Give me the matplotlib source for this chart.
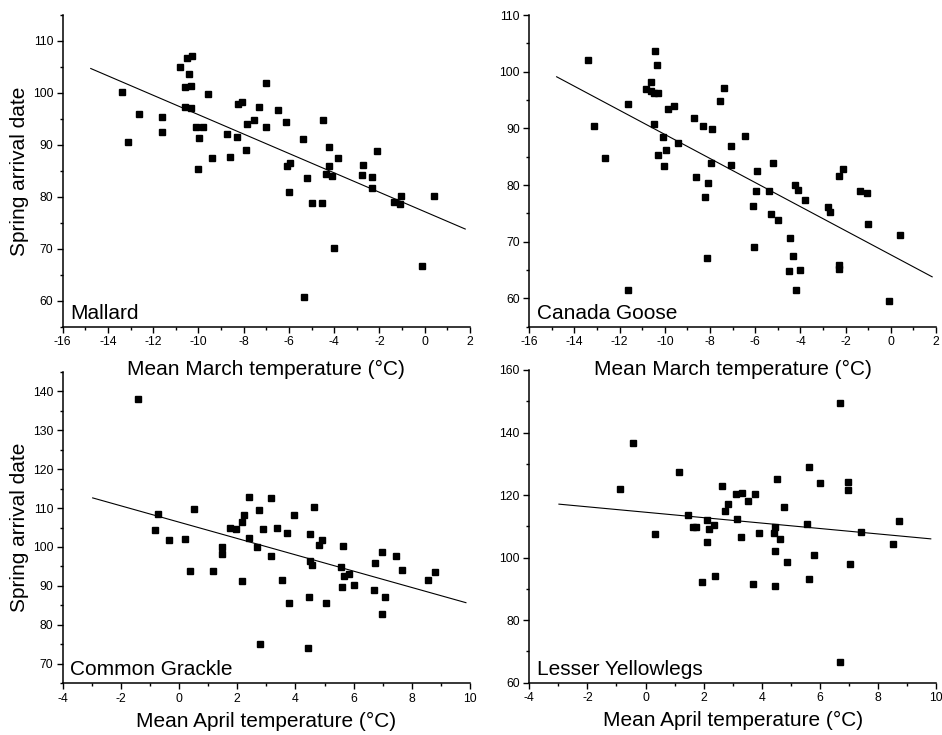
import matplotlib
matplotlib.use("Agg")
import matplotlib.pyplot as plt
from matplotlib.ticker import MultipleLocator

plt.rcParams['font.family'] = ['Liberation Sans', 'DejaVu Sans']
plt.rcParams['axes.unicode_minus'] = False

# ---------------- data ----------------
mallard_x = [-13.40, -13.10, -12.65, -11.60, -11.59, -10.82, -10.49, -10.28, -10.43, -10.60,
             -10.34, -10.60, -10.31, -10.12, -9.82, -9.96, -10.03, -9.59, -9.41, -8.74,
             -8.62, -8.29, -8.25, -8.09, -7.87, -7.91, -7.53, -7.34, -7.00, -7.00,
             -6.47, -6.12, -6.09, -5.96, -5.99, -5.37, -5.22, -5.00, -4.54, -5.32,
             -4.49, -4.22, -4.22, -4.38, -4.10, -3.82, -4.01, -2.79, -2.71, -2.32,
             -2.31, -2.12, -1.38, -1.06, -1.09, -0.10, 0.40]
mallard_y = [100.1, 90.5, 95.9, 95.3, 92.4, 104.9, 106.7, 107.2, 103.7, 101.2,
             101.3, 97.2, 97.1, 93.5, 93.5, 91.3, 85.4, 99.7, 87.4, 92.0,
             87.7, 91.5, 97.8, 98.3, 94.0, 89.0, 94.8, 97.2, 102.0, 93.5,
             96.7, 94.4, 86.0, 86.6, 81.0, 91.1, 83.6, 78.8, 78.8, 60.8,
             94.7, 89.5, 86.0, 84.4, 84.0, 87.4, 70.1, 84.2, 86.2, 83.8,
             81.7, 88.8, 79.0, 80.2, 78.7, 66.7, 80.2]
mallard_line_x = [-14.76, 1.79]
mallard_line_y = [104.7, 73.8]

goose_x = [-13.40, -13.12, -12.63, -11.62, -11.62, -10.44, -10.35, -10.60, -10.84, -10.63,
           -10.48, -10.29, -10.47, -10.10, -10.29, -9.97, -10.03, -9.85, -9.60, -9.41,
           -8.73, -8.61, -8.30, -8.08, -8.24, -8.14, -7.93, -7.98, -7.58, -7.39,
           -7.07, -7.07, -6.46, -5.94, -5.96, -6.10, -6.06, -5.20, -5.37, -5.31,
           -5.01, -4.47, -4.35, -4.52, -4.01, -4.20, -4.22, -4.09, -3.80, -2.77,
           -2.67, -2.30, -2.11, -2.30, -2.30, -1.37, -1.04, -1.03, -0.09, 0.41]
goose_y = [102.1, 90.5, 84.8, 94.3, 61.4, 103.6, 101.2, 98.2, 96.9, 96.6,
           96.2, 96.2, 90.7, 88.5, 85.3, 86.2, 83.4, 93.5, 93.9, 87.4,
           91.9, 81.5, 90.4, 80.4, 77.8, 67.1, 89.9, 83.9, 94.8, 97.2,
           86.9, 83.5, 88.6, 82.5, 78.9, 76.3, 69.1, 83.8, 79.0, 74.8,
           73.8, 70.7, 67.5, 64.8, 65.0, 61.5, 80.0, 79.1, 77.3, 76.2,
           75.3, 81.6, 82.8, 65.9, 65.1, 78.9, 78.6, 73.2, 59.6, 71.2]
goose_line_x = [-14.79, 1.83]
goose_line_y = [99.1, 63.8]

grackle_x = [-1.42, -0.74, -0.83, -0.35, 0.20, 0.50, 0.39, 1.18, 1.48, 1.46,
             1.76, 1.96, 2.15, 2.22, 2.40, 2.42, 2.16, 2.67, 2.75, 2.77,
             2.88, 3.17, 3.16, 3.36, 3.55, 3.72, 3.79, 3.96, 4.50, 4.50,
             4.56, 4.46, 4.43, 4.65, 4.91, 4.81, 5.04, 5.64, 5.56, 5.66,
             5.84, 5.59, 6.02, 6.71, 6.75, 6.99, 7.07, 6.99, 7.46, 7.65,
             8.56, 8.78]
grackle_y = [137.9, 108.4, 104.4, 101.7, 102.0, 109.8, 93.9, 93.9, 100.0, 98.2,
             105.0, 104.5, 106.3, 108.1, 112.8, 102.4, 91.2, 100.1, 109.6, 75.0,
             104.5, 112.5, 97.8, 105.0, 91.4, 103.6, 85.7, 108.1, 103.4, 96.5,
             95.5, 87.2, 74.0, 110.2, 101.8, 100.4, 85.6, 100.2, 94.9, 92.5,
             93.1, 89.8, 90.3, 88.9, 95.8, 98.6, 87.2, 82.8, 97.6, 94.2,
             91.6, 93.7]
grackle_line_x = [-2.97, 9.86]
grackle_line_y = [112.6, 85.7]

yellowlegs_x = [-0.88, -0.44, 0.31, 1.15, 1.45, 1.63, 1.73, 2.10, 2.18, 2.37,
                2.12, 1.93, 2.40, 2.63, 2.72, 2.85, 3.13, 3.33, 3.14, 3.52,
                3.30, 3.76, 3.92, 3.69, 4.47, 4.41, 4.62, 4.47, 4.45, 4.51,
                4.77, 4.86, 5.56, 5.62, 5.80, 5.63, 6.01, 6.68, 6.70, 6.97,
                6.97, 7.04, 7.42, 8.53, 8.74]
yellowlegs_y = [122.1, 136.5, 107.7, 127.5, 113.7, 109.9, 109.8, 112.0, 109.0, 110.5,
                105.1, 92.3, 94.1, 122.8, 114.8, 117.2, 120.5, 120.6, 112.3, 118.1,
                106.6, 120.4, 107.9, 91.5, 109.8, 107.8, 106.0, 102.2, 91.0, 125.3,
                116.1, 98.5, 110.7, 128.9, 100.7, 93.3, 124.0, 149.6, 66.6, 124.3,
                121.5, 98.1, 108.2, 104.3, 111.6]
yellowlegs_line_x = [-2.98, 9.82]
yellowlegs_line_y = [117.1, 106.0]

names = ["Mallard", "Canada Goose", "Common Grackle", "Lesser Yellowlegs"]
xlabel_march = "Mean March temperature (\u00b0C)"
xlabel_april = "Mean April temperature (\u00b0C)"
ylabel = "Spring arrival date"

# ---------------- layout ----------------
W, H = 942, 735
fig = plt.figure(figsize=(W / 100, H / 100), dpi=100)

def make_ax(l, t, r, b):
    ax = fig.add_axes([l / W, 1 - b / H, (r - l) / W, (b - t) / H])
    ax.patch.set_alpha(0)
    return ax

axes = [make_ax(62.7, 15, 470, 326.7),
        make_ax(529.3, 15, 936, 326.7),
        make_ax(62.7, 371.7, 470, 683.3),
        make_ax(529.3, 370, 936, 682.7)]

panels = [
    (mallard_x, mallard_y, mallard_line_x, mallard_line_y, (-16, 2), (55, 115), 10, 5, xlabel_march),
    (goose_x, goose_y, goose_line_x, goose_line_y, (-16, 2), (55, 110), 10, 5, xlabel_march),
    (grackle_x, grackle_y, grackle_line_x, grackle_line_y, (-4, 10), (65, 145), 10, 5, xlabel_april),
    (yellowlegs_x, yellowlegs_y, yellowlegs_line_x, yellowlegs_line_y, (-4, 10), (60, 160), 20, 10, xlabel_april),
]

for i, (ax, (px, py, lx, ly, xl, yl, ymaj, ymin, xlab)) in enumerate(zip(axes, panels)):
    ax.plot(lx, ly, color='black', lw=0.8, zorder=2)
    ax.plot(px, py, linestyle='none', marker='s', markersize=4.8,
            color='black', zorder=3, clip_on=False)
    ax.set_xlim(*xl)
    ax.set_ylim(*yl)
    ax.xaxis.set_major_locator(MultipleLocator(2))
    ax.xaxis.set_minor_locator(MultipleLocator(1))
    ax.yaxis.set_major_locator(MultipleLocator(ymaj))
    ax.yaxis.set_minor_locator(MultipleLocator(ymin))
    for s in ['top', 'right']:
        ax.spines[s].set_visible(False)
    for s in ['left', 'bottom']:
        ax.spines[s].set_linewidth(1.1)
    ax.tick_params(which='major', direction='out', length=4.3, width=1.0,
                   labelsize=8.8, pad=2.5)
    ax.tick_params(which='minor', direction='out', length=2.5, width=1.0)
    ax.set_xlabel(xlab, fontsize=15, va='center')
    if i % 2 == 0:
        ax.set_ylabel(ylabel, fontsize=15, va='center')
        ax.yaxis.set_label_coords((20 - 62.7) / 407.3, 0.5)
    if i < 2:
        ax.xaxis.set_label_coords(0.5, (326.7 - 369) / 311.7)
    else:
        ax.xaxis.set_label_coords(0.5, -(721 - 683) / 312)
    ax.text(0.018, 0.026, names[i], transform=ax.transAxes, fontsize=15,
            ha='left', va='baseline')

fig.savefig("out.png", dpi=100)
